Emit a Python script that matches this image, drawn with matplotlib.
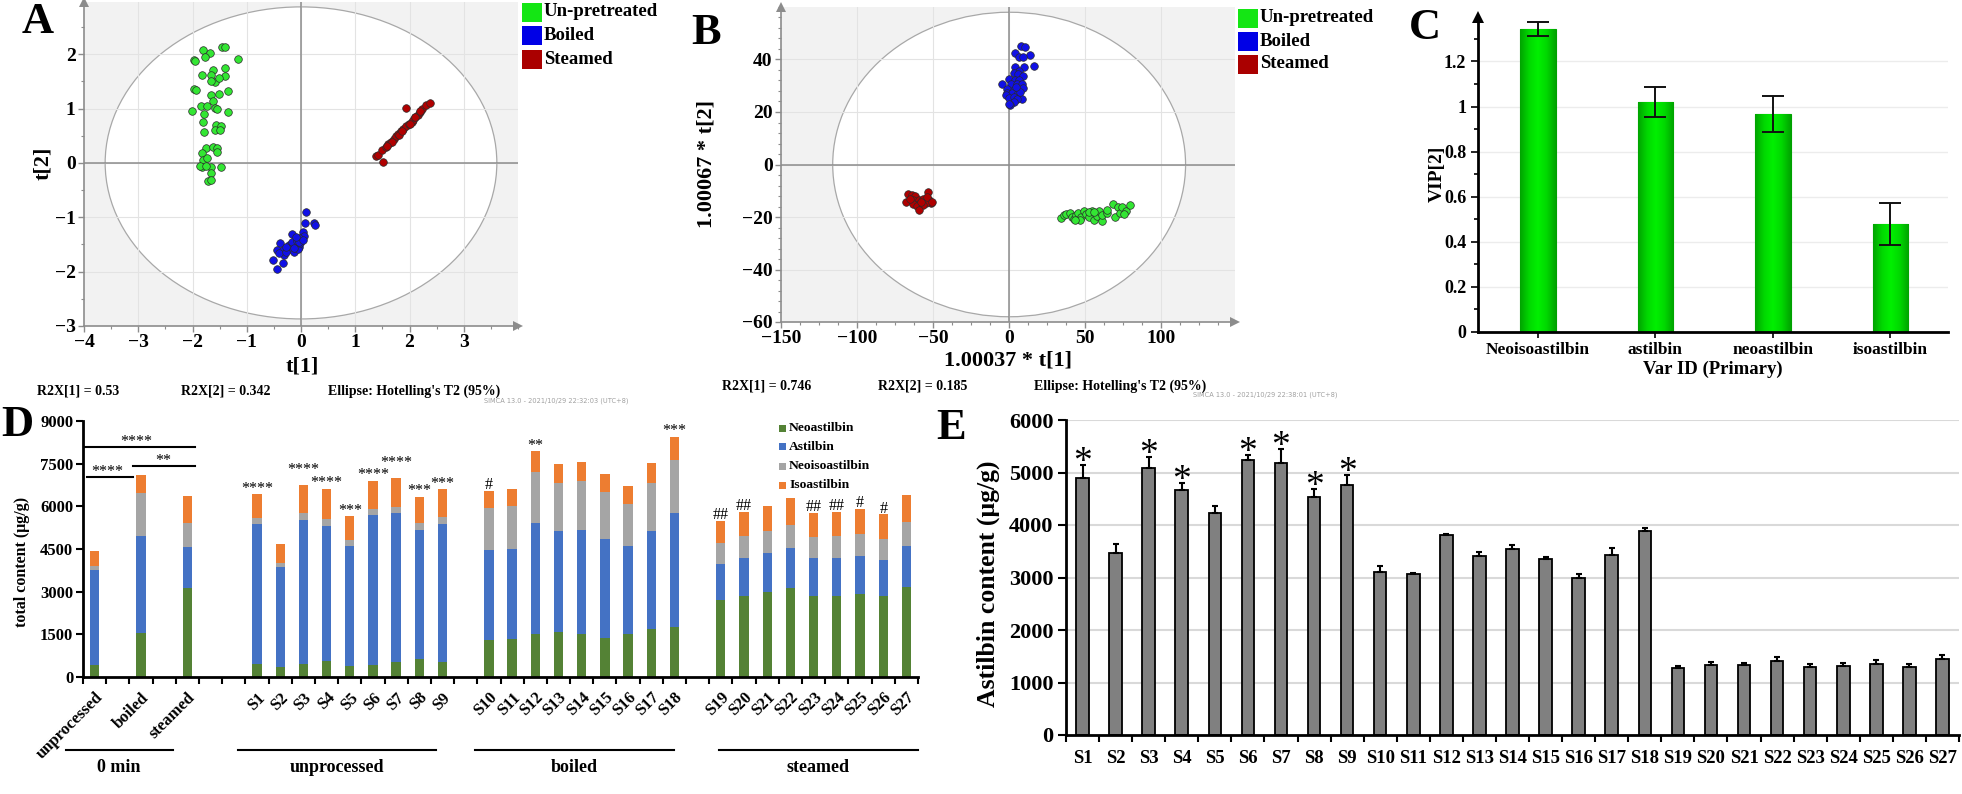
import numpy as np
import matplotlib.pyplot as plt
from matplotlib.patches import Ellipse, Rectangle
from matplotlib.ticker import MultipleLocator, FuncFormatter
from matplotlib.colors import LinearSegmentedColormap

plt.rcParams['font.family'] = ['Liberation Serif', 'DejaVu Serif']
plt.rcParams['font.weight'] = 'bold'

W, H = 1962, 794

# ---------------- data ----------------
groups = ['Un-pretreated', 'Boiled', 'Steamed']
pt_colors = ['#33e633', '#1010e6', '#b00000']
leg_colors = ['#14e614', '#0000e6', '#aa0000']

# A: PCA scores
a_un_x = [-1.81, -1.68, -1.77, -1.45, -1.40, -1.97, -1.95, -1.17, -1.82, -1.62, -1.66, -1.58, -1.40,
          -1.41, -1.52, -1.65, -1.97, -1.94, -1.66, -1.52, -1.35, -1.62, -1.85, -1.74, -1.58, -1.54,
          -2.01, -1.35, -1.79, -1.81, -1.57, -1.47, -1.59, -1.50, -1.79, -1.76, -1.82, -1.62, -1.54,
          -1.54, -1.81, -1.73, -1.82, -1.86, -1.65, -1.48, -1.76, -1.65, -1.71, -1.65]
a_un_y = [2.07, 2.03, 1.94, 2.13, 2.14, 1.90, 1.87, 1.92, 1.62, 1.71, 1.62, 1.48, 1.74, 1.59, 1.56,
          1.50, 1.36, 1.34, 1.25, 1.27, 1.33, 1.13, 1.05, 1.05, 1.01, 0.99, 0.96, 0.93, 0.90, 0.76,
          0.70, 0.67, 0.61, 0.61, 0.57, 0.27, 0.18, 0.30, 0.27, 0.20, 0.06, 0.09, -0.07, -0.06, -0.07,
          -0.07, -0.05, -0.19, -0.34, -0.31]
a_bo_x = [0.09, 0.07, 0.24, 0.26, -0.16, 0.03, 0.06, -0.04, -0.10, -0.39, -0.25, -0.22, -0.16, -0.09,
          -0.04, -0.44, -0.34, -0.31, -0.19, -0.13, -0.05, -0.41, -0.52, -0.34, -0.44, -0.27, -0.17,
          -0.02, -0.07, -0.13, -0.27, -0.04, 0.03, -0.10]
a_bo_y = [-0.91, -1.10, -1.10, -1.14, -1.30, -1.27, -1.34, -1.38, -1.42, -1.47, -1.55, -1.51, -1.53,
          -1.49, -1.55, -1.60, -1.61, -1.69, -1.59, -1.63, -1.59, -1.66, -1.78, -1.85, -1.95, -1.63,
          -1.46, -1.47, -1.44, -1.57, -1.55, -1.45, -1.42, -1.36]
a_st_x = [1.38, 1.42, 1.49, 1.56, 1.61, 1.66, 1.71, 1.75, 1.79, 1.84, 1.88, 1.94, 1.99, 2.04, 2.07,
          2.11, 2.15, 2.19, 2.23, 2.30, 2.37, 1.94, 1.51, 2.00, 1.81, 1.67, 1.59, 2.10, 2.20, 1.87]
a_st_y = [0.12, 0.15, 0.24, 0.30, 0.35, 0.39, 0.44, 0.49, 0.53, 0.58, 0.62, 0.67, 0.72, 0.76, 0.79,
          0.84, 0.88, 0.93, 0.99, 1.07, 1.11, 1.01, 0.01, 0.72, 0.52, 0.38, 0.31, 0.85, 0.95, 0.59]

# B: PLS-DA scores
b_un_x = [34.0, 35.8, 37.5, 40.1, 41.2, 42.8, 44.1, 45.6, 47.2, 49.3, 50.7, 52.2, 54.4, 55.9, 57.7,
          59.4, 61.0, 61.0, 64.3, 64.3, 68.2, 69.7, 71.9, 72.6, 74.1, 77.0, 79.2, 75.7, 52.2, 46.7,
          43.4, 55.9]
b_un_y = [-20.4, -19.4, -18.8, -18.5, -20.1, -20.7, -19.4, -18.5, -20.1, -17.8, -18.8, -20.1, -17.8,
          -21.3, -19.8, -17.8, -21.6, -19.4, -18.5, -17.5, -15.0, -20.1, -16.3, -18.5, -16.3, -17.8,
          -15.6, -18.8, -18.2, -21.1, -21.3, -18.2]
b_bo_x = [7.9, 10.5, 4.0, 13.4, 6.8, 9.4, 16.5, 4.0, 9.9, 6.8, 2.9, 5.5, 9.0, 0.2, 4.0, 6.8, -4.4,
          1.1, 5.0, 8.3, -1.1, 2.9, 9.0, -1.5, 1.8, 6.1, -2.0, 0.2, 3.3, 8.3, 5.0, 2.9, 0.7, 0.2,
          7.2, 4.6]
b_bo_y = [45.0, 44.7, 42.4, 41.7, 41.1, 41.1, 37.7, 37.3, 37.1, 35.8, 34.8, 34.3, 33.9, 32.6, 32.3,
          32.0, 30.7, 30.5, 30.7, 30.7, 28.8, 28.2, 29.0, 27.2, 27.2, 27.2, 26.3, 25.4, 25.7, 25.0,
          25.0, 23.8, 22.5, 23.1, 27.6, 29.5]
b_st_x = [-66.7, -64.0, -61.6, -67.8, -63.4, -59.0, -56.4, -53.1, -52.4, -51.5, -54.6, -59.0, -63.4,
          -60.8, -56.8, -59.0, -54.2, -50.9, -65.1, -57.9]
b_st_y = [-11.4, -11.8, -12.1, -14.1, -13.7, -13.5, -13.1, -10.4, -13.7, -14.7, -14.7, -15.0, -15.0,
          -15.9, -15.6, -17.5, -12.4, -14.4, -13.1, -14.4]

# C: VIP
c_vars = ['Neoisoastilbin', 'astilbin', 'neoastilbin', 'isoastilbin']
c_vip = [1.343, 1.019, 0.967, 0.479]
c_err = [0.031, 0.066, 0.078, 0.093]

# D: stacked contents
d_names = ['unprocessed', 'boiled', 'steamed'] + ['S%d' % i for i in range(1, 28)]
d_slots = [0, 2, 4] + list(range(7, 16)) + list(range(17, 26)) + list(range(27, 36))
d_neo = [420, 1557, 3139, 457, 363, 469, 574, 387, 410, 538, 621, 539, 1311, 1346, 1522, 1580, 1522,
         1381, 1522, 1674, 1768, 2707, 2848, 3000, 3139, 2860, 2860, 2930, 2860, 3174]
d_ast = [3354, 3399, 1441, 4921, 3492, 5061, 4722, 4229, 5273, 5215, 4546, 4839, 3141, 3141, 3879,
         3552, 3645, 3469, 3094, 3458, 4008, 1264, 1322, 1357, 1395, 1310, 1310, 1322, 1263, 1442]
d_neoiso = [128, 1500, 833, 199, 164, 223, 258, 211, 223, 211, 234, 234, 1499, 1523, 1812, 1671,
            1718, 1653, 1465, 1671, 1856, 726, 793, 775, 820, 762, 793, 786, 739, 844]
d_iso = [527, 644, 937, 855, 656, 996, 1066, 832, 994, 1019, 937, 984, 598, 598, 727, 700, 676, 625,
         632, 723, 814, 794, 845, 878, 926, 840, 845, 875, 864, 925]
d_series = ['Neoastilbin', 'Astilbin', 'Neoisoastilbin', 'Isoastilbin']
d_colors = ['#548235', '#4472c4', '#a5a5a5', '#ed7d31']
d_sig = ['', '', '', '****', '', '****', '****', '***', '****', '****', '***', '***', '#', '', '**',
         '', '', '', '', '', '***', '##', '##', '', '', '##', '##', '#', '#', '']
d_brackets = [(-0.47, 4.35, 8080, '****', 1.81), (-0.34, 1.64, 7026, '****', 0.56),
              (1.64, 4.35, 7412, '**', 2.97)]
d_groups = [('0 min', -1.25, 3.36), ('unprocessed', 6.2, 14.74), ('boiled', 16.4, 24.96),
            ('steamed', 26.9, 35.5)]

# E: astilbin content
e_names = ['S%d' % i for i in range(1, 28)]
e_vals = [4902, 3460, 5092, 4675, 4222, 5238, 5187, 4533, 4756, 3111, 3060, 3816, 3403, 3549, 3352,
          2990, 3422, 3892, 1270, 1333, 1333, 1410, 1302, 1314, 1346, 1295, 1454]
e_err = [240, 170, 200, 130, 140, 100, 255, 147, 196, 114, 26, 19, 76, 70, 32, 70, 134, 51, 51, 51,
         45, 69, 50, 57, 83, 64, 76]
e_sig = ['*', '', '*', '*', '', '*', '*', '*', '*'] + [''] * 18

fig = plt.figure(figsize=(W / 100, H / 100), dpi=100)


def box(x0, y0, x1, y1):
    return fig.add_axes([x0 / W, 1 - y1 / H, (x1 - x0) / W, (y1 - y0) / H])


def put(x, y, s, **kw):
    kw.setdefault('ha', 'center')
    kw.setdefault('va', 'center')
    return fig.text(x / W, 1 - y / H, s, **kw)


def score_plot(ax, xlim, ylim, rx, ry, gx, gy, pts):
    ax.set_xlim(*xlim)
    ax.set_ylim(*ylim)
    ax.set_facecolor('#f2f2f2')
    ax.add_patch(Ellipse((0, 0), 2 * rx, 2 * ry, fc='white', ec='#a8a8a8', lw=0.9, zorder=0.5))
    for v in gx:
        ax.axvline(v, color='#e3e3e3', lw=0.8, zorder=0.6)
    for v in gy:
        ax.axhline(v, color='#e3e3e3', lw=0.8, zorder=0.6)
    ax.axhline(0, color='#8c8c8c', lw=1.1, zorder=0.7)
    ax.axvline(0, color='#8c8c8c', lw=1.1, zorder=0.7)
    for (xs, ys), c in zip(pts, pt_colors):
        ax.scatter(xs, ys, s=30, c=c, edgecolors='#2a2a2a', linewidths=0.5, zorder=3)
    for s in ['top', 'right']:
        ax.spines[s].set_visible(False)
    for s in ['left', 'bottom']:
        ax.spines[s].set_color('#8c8c8c')
        ax.spines[s].set_linewidth(1.2)
    ax.plot([1], [0], marker='>', ms=7, color='#8c8c8c', mew=0, transform=ax.transAxes, clip_on=False)
    ax.plot([0], [1], marker='^', ms=7, color='#8c8c8c', mew=0, transform=ax.transAxes, clip_on=False)
    ax.tick_params(which='both', direction='out', color='#8c8c8c', labelsize=14, pad=2)
    ax.tick_params(which='major', length=4, width=1)
    ax.tick_params(which='minor', length=2, width=0.8)


def legend_block(x, y0, dy):
    for i, (g, c) in enumerate(zip(groups, leg_colors)):
        yc = y0 + i * dy
        fig.patches.append(Rectangle((x / W, 1 - (yc + 9.5) / H), 20 / W, 19 / H, fc=c, ec='none',
                                     transform=fig.transFigure))
        put(x + 22, yc, g, ha='left', fontsize=13.5)


# ---------------- A ----------------
axA = box(84, 2, 518, 326)
score_plot(axA, (-4, 4), (-3, 2.96), 3.61, 2.87, range(-3, 4), range(-2, 3),
           [(a_un_x, a_un_y), (a_bo_x, a_bo_y), (a_st_x, a_st_y)])
axA.set_xticks(range(-4, 4))
axA.set_yticks(range(-3, 3))
axA.xaxis.set_minor_locator(MultipleLocator(0.5))
axA.yaxis.set_minor_locator(MultipleLocator(0.5))
put(38, 22, 'A', fontsize=32)
put(43, 163, 't[2]', rotation=90, fontsize=16)
put(302, 367, 't[1]', fontsize=16)
legend_block(522, 12, 23.5)
put(37, 391, 'R2X[1] = 0.53', ha='left', fontsize=10)
put(181, 391, 'R2X[2] = 0.342', ha='left', fontsize=10)
put(328, 391, "Ellipse: Hotelling's T2 (95%)", ha='left', fontsize=10)
put(484, 401, 'SIMCA 13.0 - 2021/10/29 22:32:03 (UTC+8)', ha='left', fontsize=4.8,
    family='DejaVu Sans', weight='normal', color='#a0a0a0')

# ---------------- B ----------------
axB = box(781, 7, 1235, 322)
score_plot(axB, (-150, 148.5), (-60, 60), 116, 58, range(-100, 150, 50), range(-40, 60, 20),
           [(b_un_x, b_un_y), (b_bo_x, b_bo_y), (b_st_x, b_st_y)])
axB.set_xticks(range(-150, 101, 50))
axB.set_yticks(range(-60, 41, 20))
axB.xaxis.set_minor_locator(MultipleLocator(12.5))
axB.yaxis.set_minor_locator(MultipleLocator(4))
put(706, 33, 'B', fontsize=32)
put(706, 164, '1.00067 * t[2]', rotation=90, fontsize=16)
put(1008, 361, '1.00037 * t[1]', fontsize=16)
legend_block(1238, 18, 23)
put(722, 386, 'R2X[1] = 0.746', ha='left', fontsize=10)
put(878, 386, 'R2X[2] = 0.185', ha='left', fontsize=10)
put(1034, 386, "Ellipse: Hotelling's T2 (95%)", ha='left', fontsize=10)
put(1193, 395, 'SIMCA 13.0 - 2021/10/29 22:38:01 (UTC+8)', ha='left', fontsize=4.8,
    family='DejaVu Sans', weight='normal', color='#a0a0a0')

# ---------------- C ----------------
axC = box(1478, 17, 1948, 332)
cx = np.arange(len(c_vars))
gcmap = LinearSegmentedColormap.from_list('g', ['#00a400', '#00d800', '#00f000', '#00d800', '#00a400'])
grad = np.linspace(0, 1, 64).reshape(1, -1)
for yv in np.arange(0.2, 1.3, 0.2):
    axC.axhline(yv, color='#ececec', lw=1, zorder=0)
for x, v in zip(cx, c_vip):
    bar = axC.bar(x, v, width=0.3, color='#00c800', edgecolor='#00a000', lw=0.8, zorder=2)[0]
    im = axC.imshow(grad, extent=[x - 0.15, x + 0.15, 0, v], cmap=gcmap, aspect='auto', zorder=2.1)
    im.set_clip_path(bar)
axC.errorbar(cx, c_vip, yerr=c_err, fmt='none', ecolor='#111111', elinewidth=1.4, capsize=8,
             capthick=1.4, zorder=3)
axC.set_xlim(-0.51, 3.49)
axC.set_ylim(0, 1.397)
axC.set_aspect('auto')
for s in ['top', 'right']:
    axC.spines[s].set_visible(False)
for s in ['left', 'bottom']:
    axC.spines[s].set_linewidth(2)
axC.plot([0], [1], marker='^', ms=8, color='black', mew=0, transform=axC.transAxes, clip_on=False)
axC.set_yticks(np.arange(0, 1.3, 0.2))
axC.yaxis.set_major_formatter(FuncFormatter(lambda v, p: '%g' % round(v, 1)))
axC.yaxis.set_minor_locator(MultipleLocator(0.1))
axC.set_xticks(cx)
axC.set_xticklabels(c_vars, fontsize=12.5)
axC.tick_params(axis='y', which='both', direction='out', labelsize=13, width=1.2)
axC.tick_params(axis='y', which='major', length=5)
axC.tick_params(axis='y', which='minor', length=3)
axC.tick_params(axis='x', length=4, width=1.2, pad=3)
put(1425, 28, 'C', fontsize=32)
put(1437, 174, 'VIP[2]', rotation=90, fontsize=14)
put(1713, 369, 'Var ID (Primary)', fontsize=13.5)

# ---------------- D ----------------
axD = box(83, 421, 918, 677)
bottom = np.zeros(len(d_names))
for vals, lab, col in zip([d_neo, d_ast, d_neoiso, d_iso], d_series, d_colors):
    axD.bar(d_slots, vals, width=0.4, bottom=bottom, color=col, label=lab, zorder=2)
    bottom += np.array(vals)
for x, top, s in zip(d_slots, bottom, d_sig):
    if s:
        lift = 8 if d_names[d_slots.index(x)] in ('S3', 'S7') else 1
        axD.annotate(s, (x, top), xytext=(0, lift), textcoords='offset points', ha='center',
                     va='baseline', fontsize=11.5, fontweight='normal', annotation_clip=False)
for x0, x1, yv, s, xt in d_brackets:
    axD.plot([x0, x1], [yv, yv], color='black', lw=1.5, clip_on=False)
    axD.annotate(s, (xt, yv), xytext=(0, 1), textcoords='offset points', ha='center',
                 va='baseline', fontsize=11.5, fontweight='normal')
tr = axD.get_xaxis_transform()
for lab, x0, x1 in d_groups:
    axD.plot([x0, x1], [-0.285, -0.285], color='black', lw=1.5, transform=tr, clip_on=False)
    axD.text((x0 + x1) / 2, -0.355, lab, transform=tr, ha='center', va='center', fontsize=13)
axD.set_xlim(-0.5, 35.5)
axD.set_ylim(0, 9000)
for s in ['top', 'right']:
    axD.spines[s].set_visible(False)
for s in ['left', 'bottom']:
    axD.spines[s].set_linewidth(2)
axD.set_yticks(range(0, 9001, 1500))
axD.set_xticks(d_slots)
axD.set_xticklabels(d_names, rotation=45, ha='right', va='top', rotation_mode='anchor', fontsize=12)
axD.set_xticks(np.arange(-0.5, 36, 1), minor=True)
axD.tick_params(axis='x', which='major', length=0, pad=9)
axD.tick_params(axis='x', which='minor', length=5, width=1.5)
axD.tick_params(axis='y', length=5, width=1.5, labelsize=12, pad=2)
for i, (lab, col) in enumerate(zip(d_series, d_colors)):
    yc = 428 + i * 19
    fig.patches.append(Rectangle((779 / W, 1 - (yc + 3.5) / H), 7 / W, 7 / H, fc=col, ec='none',
                                 transform=fig.transFigure))
    put(789, yc, lab, ha='left', fontsize=9.7)
put(17, 425, 'D', fontsize=32)
put(22, 562, 'total content (\u03bcg/g)', rotation=90, fontsize=11.5)

# ---------------- E ----------------
axE = box(1066, 420, 1959, 735)
ex = np.arange(len(e_names))
for yv in range(1000, 6001, 1000):
    axE.axhline(yv, color='#d9d9d9', lw=1.5, zorder=0)
axE.bar(ex, e_vals, width=0.38, color='#808080', edgecolor='black', lw=1.3, zorder=2)
axE.errorbar(ex, e_vals, yerr=[np.zeros(len(e_err)), e_err], fmt='none', ecolor='black',
             elinewidth=1.5, capsize=2.5, capthick=1.5, zorder=3)
for x, v, er, s in zip(ex, e_vals, e_err, e_sig):
    if s:
        axE.annotate(s, (x, v + er), xytext=(0, -5), textcoords='offset points', ha='center',
                     va='baseline', fontsize=27, fontweight='normal')
axE.set_xlim(-0.5, 26.5)
axE.set_ylim(0, 6000)
for s in ['top', 'right']:
    axE.spines[s].set_visible(False)
for s in ['left', 'bottom']:
    axE.spines[s].set_linewidth(2)
axE.set_yticks(range(0, 6001, 1000))
axE.set_xticks(ex)
axE.set_xticklabels(e_names, fontsize=13.5)
axE.set_xticks(np.arange(-0.5, 27, 1), minor=True)
axE.tick_params(axis='x', which='major', length=0, pad=11)
axE.tick_params(axis='x', which='minor', length=5, width=1.5)
axE.tick_params(axis='y', length=6, width=1.5, labelsize=16, pad=3)
put(951, 428, 'E', fontsize=32)
put(988, 584, 'Astilbin content (\u03bcg/g)', rotation=90, fontsize=18.5)

fig.savefig('out.png', dpi=100)
